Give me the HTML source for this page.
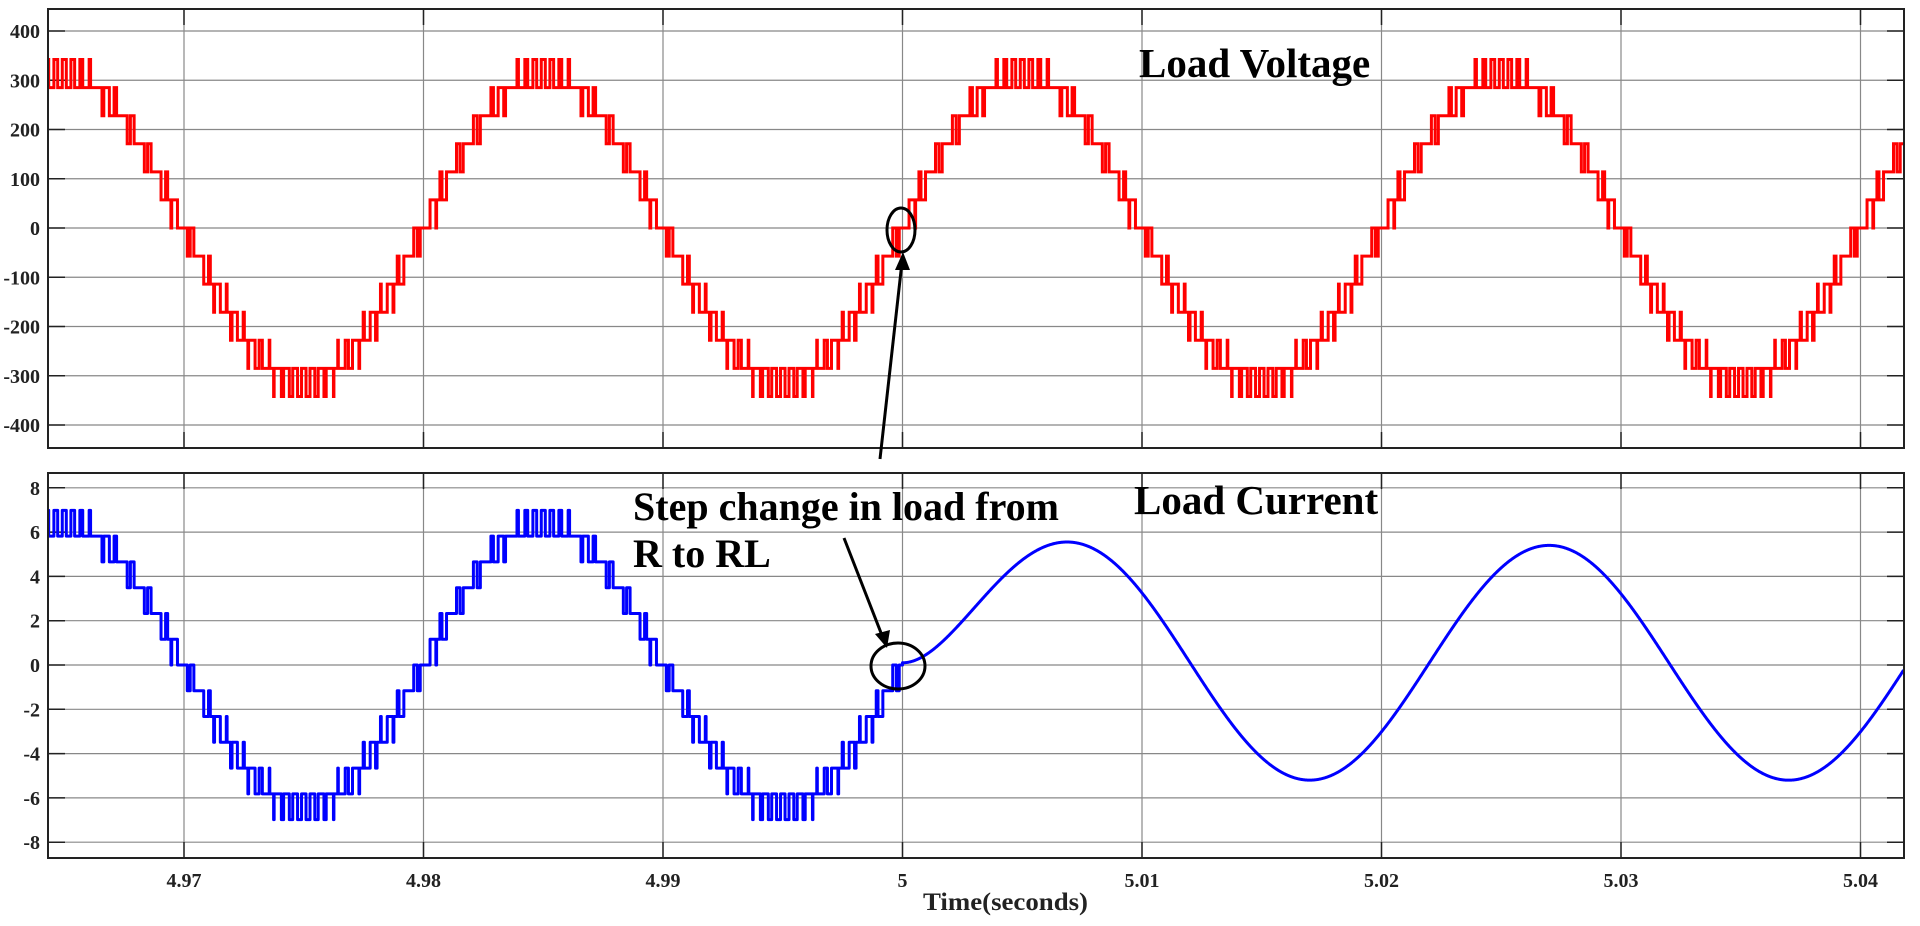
<!DOCTYPE html>
<html><head><meta charset="utf-8">
<style>
html,body{margin:0;padding:0;background:#fff;}
svg{display:block;}
text{font-family:"Liberation Serif",serif;font-weight:bold;}
</style></head>
<body>
<svg id="s" width="1920" height="926" xmlns="http://www.w3.org/2000/svg">
<g id="grid" stroke="#888" stroke-width="1.2" fill="none"></g>
<g id="ticks" stroke="#222" stroke-width="1.5" fill="none"></g>
<path id="pv" fill="none" stroke="#ff0000" stroke-width="3" stroke-linejoin="miter"/>
<path id="pi" fill="none" stroke="#0000ff" stroke-width="3" stroke-linejoin="round"/>
<rect x="48" y="9" width="1856" height="439" fill="none" stroke="#222" stroke-width="2"/>
<rect x="48" y="473" width="1856" height="385" fill="none" stroke="#222" stroke-width="2"/>
<g id="labels" fill="#222" font-size="20"></g>
<text x="1139" y="77" font-size="41" fill="#000">Load Voltage</text>
<text x="1134" y="514" font-size="41" fill="#000">Load Current</text>
<text x="633" y="520" font-size="40" fill="#000">Step change in load from</text>
<text x="633" y="567" font-size="40" fill="#000">R to RL</text>
<text x="923" y="910" font-size="25" fill="#222" textLength="165" lengthAdjust="spacingAndGlyphs">Time(seconds)</text>
<ellipse cx="901" cy="230" rx="14" ry="22" fill="none" stroke="#000" stroke-width="3"/>
<ellipse cx="898" cy="666" rx="27" ry="23" fill="none" stroke="#000" stroke-width="3"/>
<line x1="880" y1="459" x2="902" y2="262" stroke="#000" stroke-width="3"/>
<polygon points="903,252 895,270 910,270" fill="#000"/>
<line x1="844" y1="538" x2="883" y2="638" stroke="#000" stroke-width="3"/>
<polygon points="887,648 875,634 890,630" fill="#000"/>
</svg>
<script>
(function(){
var NS="http://www.w3.org/2000/svg";
function X(t){return 184+(t-4.97)*23950;}
function YV(v){return 228-v*0.4925;}
function YI(i){return 665-i*22.15;}
var grid=document.getElementById('grid'),ticks=document.getElementById('ticks'),lab=document.getElementById('labels');
function line(g,x1,y1,x2,y2){var l=document.createElementNS(NS,'line');l.setAttribute('x1',x1);l.setAttribute('y1',y1);l.setAttribute('x2',x2);l.setAttribute('y2',y2);g.appendChild(l);}
function txt(x,y,s,anchor){var t=document.createElementNS(NS,'text');t.setAttribute('x',x);t.setAttribute('y',y);t.setAttribute('text-anchor',anchor);t.textContent=s;lab.appendChild(t);}
var xs=[4.97,4.98,4.99,5.00,5.01,5.02,5.03,5.04],xl=["4.97","4.98","4.99","5","5.01","5.02","5.03","5.04"];
xs.forEach(function(t,k){var x=X(t);
 line(grid,x,9,x,448);line(grid,x,473,x,858);
 line(ticks,x,9,x,25);line(ticks,x,432,x,448);line(ticks,x,473,x,489);line(ticks,x,842,x,858);
 txt(x,887,xl[k],'middle');});
for(var v=-400;v<=400;v+=100){var y=YV(v);line(grid,48,y,1904,y);line(ticks,48,y,65,y);line(ticks,1887,y,1904,y);txt(40,y+7,String(v),'end');}
for(var i=-8;i<=8;i+=2){var y=YI(i);line(grid,48,y,1904,y);line(ticks,48,y,65,y);line(ticks,1887,y,1904,y);txt(40,y+7,String(i),'end');}
var w=2*Math.PI*50,A=312,st=57,fc=2800;
var tStart=4.97-(184-48)/23950, tEnd=4.97+(1904-184)/23950;
function vout(t){var r=A*Math.sin(w*(t-5))/st;var lv=Math.floor(r),f=r-lv;
 var c=(t*fc)%1; var tri=c<0.5?2*c:2-2*c; return (f>tri?lv+1:lv)*st;}
var dt=2e-6,dv="",di="",prev=null,prevI=null;
for(var t=tStart;t<=tEnd;t+=dt){var v=vout(t);var x=X(t).toFixed(2);
 if(prev===null){dv="M"+x+","+YV(v).toFixed(2);}else if(v!==prev){dv+="L"+x+","+YV(prev).toFixed(2)+"L"+x+","+YV(v).toFixed(2);}
 prev=v;
 if(t<5){var iv=v/49;
  if(prevI===null){di="M"+x+","+YI(iv).toFixed(2);}else if(iv!==prevI){di+="L"+x+","+YI(prevI).toFixed(2)+"L"+x+","+YI(iv).toFixed(2);}
  prevI=iv;}
}
dv+="L"+X(tEnd).toFixed(2)+","+YV(prev).toFixed(2);
di+="L"+X(5).toFixed(2)+","+YI(prevI).toFixed(2);
var Am=5.3,ph=0.628,tau=0.0023;
var s0=-Am*Math.sin(-ph);
for(var t=5;t<=tEnd;t+=2e-5){var i=Am*Math.sin(w*(t-5)-ph)+s0*Math.exp(-(t-5)/tau)+0.1;
 di+="L"+X(t).toFixed(2)+","+YI(i).toFixed(2);}
document.getElementById('pv').setAttribute('d',dv);
document.getElementById('pi').setAttribute('d',di);
})();
</script>
</body></html>
